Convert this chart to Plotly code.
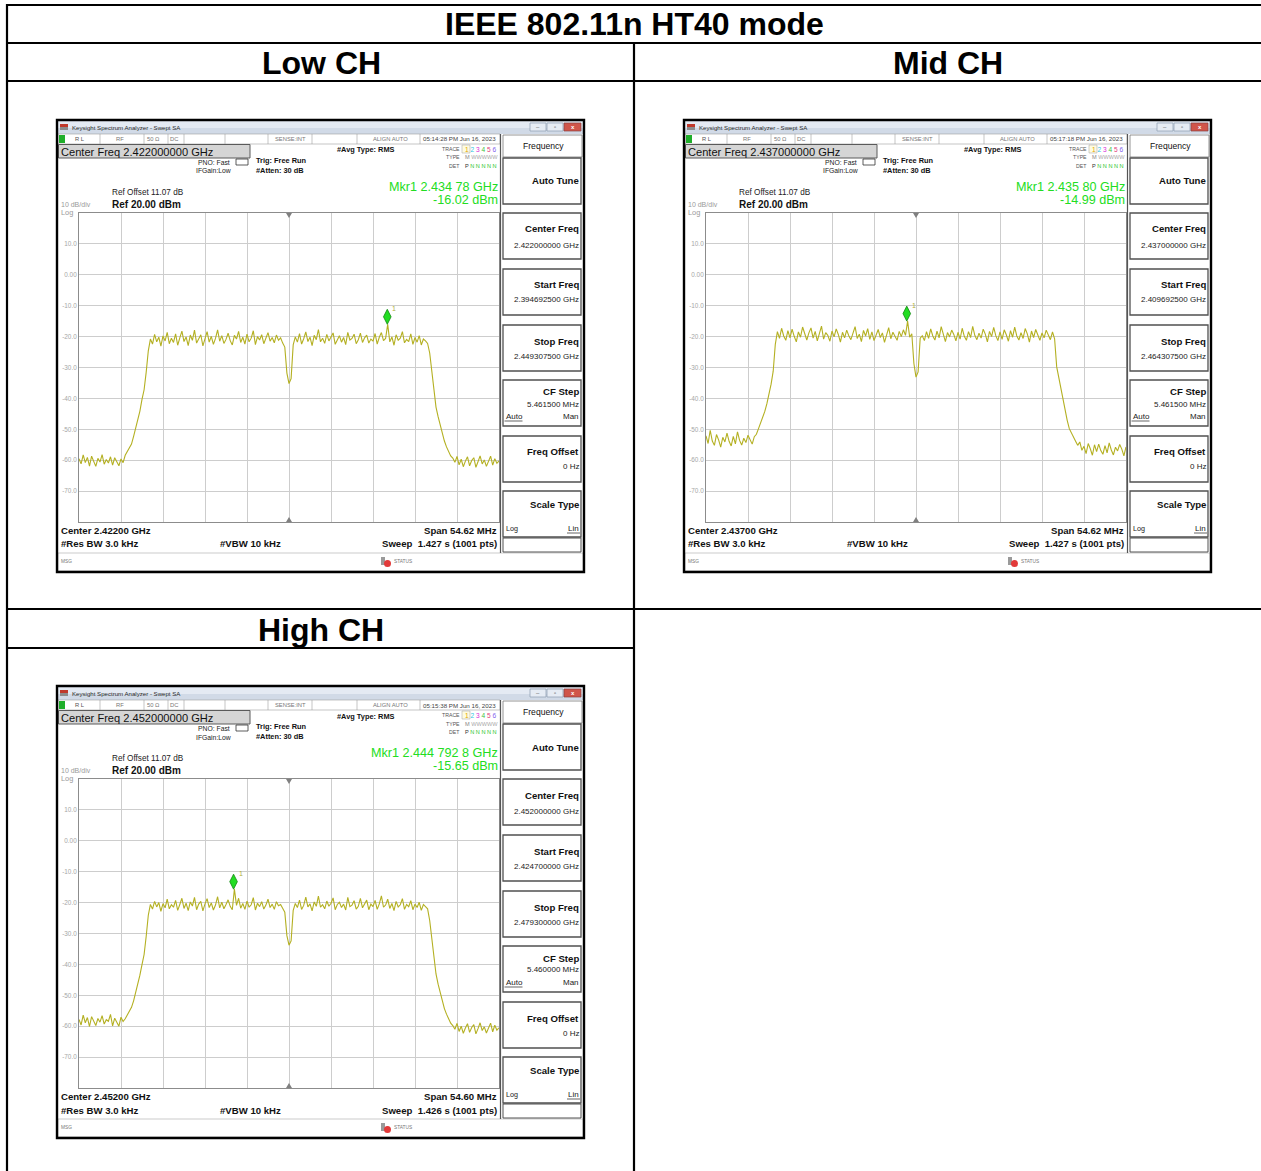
import numpy as np
import plotly.graph_objects as go

FONT = "Liberation Sans, Arial, sans-serif"
W, H = 1261, 1171
TRACE_COLOR = "#b4b022"

# ---------------- sweep settings (GHz) ----------------
low_start, low_stop = 2.3946925, 2.4493075
mid_start, mid_stop = 2.4096925, 2.4643075
high_start, high_stop = 2.4247, 2.4793

# ---------------- measured trace levels (dBm), 201 points across the span ----------------
low_dbm = [
    -59.5, -61.2, -58.3, -60.8, -59.1, -61.9, -58.7, -60.2, -62.0, -59.4,
    -60.6, -58.2, -61.3, -59.8, -60.9, -58.9, -61.6, -59.2, -60.4, -61.8,
    -59.6, -60.8, -58.4, -57.1, -55.6, -54.8, -52.3, -49.7, -46.2, -44.1,
    -40.3, -37.2, -31.5, -24.6, -20.8, -22.4, -19.3, -21.7, -20.2, -23.1,
    -19.8, -21.4, -18.6, -22.3, -20.5, -21.9, -19.1, -22.8, -20.4, -18.2,
    -21.6, -20.1, -22.9, -19.5, -21.2, -17.9, -22.1, -20.7, -19.4, -23.0,
    -20.3, -18.4, -21.8, -19.9, -22.5, -20.6, -17.8, -21.5, -19.7, -22.2,
    -20.9, -18.9, -21.3, -22.7, -19.6, -20.8, -18.3, -21.9, -20.2, -22.4,
    -19.2, -21.7, -20.5, -18.1, -22.6, -20.0, -21.1, -19.4, -22.3, -20.6,
    -18.7, -21.5, -20.3, -22.0, -19.5, -21.2, -20.4, -22.1, -23.4, -31.8,
    -35.2, -33.6, -22.7, -20.1, -21.8, -19.0, -22.4, -20.7, -18.5, -21.6,
    -20.2, -22.9, -19.6, -21.0, -17.7, -21.7, -20.5, -22.2, -19.3, -21.4,
    -20.0, -18.8, -22.5, -20.9, -19.7, -21.8, -20.3, -22.6, -18.6, -21.1,
    -20.6, -19.2, -22.3, -21.0, -18.9, -21.9, -20.4, -19.5, -22.1, -20.8,
    -21.5, -19.0, -22.4, -20.2, -18.7, -21.3, -20.6, -16.02, -21.7, -20.1,
    -22.8, -19.4, -21.2, -20.5, -18.4, -22.0, -20.9, -21.6, -19.1, -22.5,
    -20.3, -21.8, -19.7, -22.7, -20.8, -21.4, -22.2, -25.3, -31.6, -37.4,
    -42.8, -45.9, -48.6, -50.9, -53.8, -55.7, -57.2, -58.6, -59.3, -60.7,
    -58.8, -61.5, -59.7, -62.1, -60.3, -58.9, -61.8, -60.1, -59.2, -62.3,
    -60.5, -58.6, -61.2, -59.9, -62.0, -60.4, -58.7, -61.6, -59.5, -61.0, -60.2,
]

mid_dbm = [
    -52.1, -54.6, -50.3, -53.8, -55.2, -51.7, -53.4, -55.8, -52.6, -54.1,
    -51.2, -53.9, -55.4, -52.3, -54.7, -50.8, -53.6, -55.1, -52.9, -54.3,
    -51.9, -53.5, -54.8, -52.4, -51.6, -49.8, -48.1, -46.3, -44.2, -41.7,
    -38.6, -35.4, -31.2, -22.5, -18.4, -20.6, -17.3, -19.8, -21.2, -18.1,
    -20.4, -17.6, -19.9, -21.7, -18.5, -20.2, -16.9, -19.4, -21.1, -18.8,
    -17.2, -20.5, -18.3, -21.4, -19.0, -16.6, -20.8, -18.7, -19.6, -21.5,
    -18.2, -20.1, -17.5, -19.3, -21.8, -18.6, -20.4, -17.9, -19.7, -21.0,
    -18.9, -16.8, -20.6, -19.2, -21.6, -18.0, -19.8, -17.4, -20.9, -18.5,
    -21.3, -19.1, -17.7, -20.3, -18.8, -21.9, -19.4, -17.1, -20.7, -18.6,
    -19.9, -21.2, -18.3, -20.0, -17.8, -19.6, -14.99, -20.2, -19.1, -28.7,
    -33.1, -31.4, -20.5, -19.7, -21.3, -18.4, -20.6, -17.5, -19.8, -21.1,
    -18.2, -20.4, -16.8, -19.5, -21.6, -18.7, -20.1, -17.9, -19.3, -21.4,
    -18.6, -20.8, -17.3, -19.9, -21.2, -18.4, -20.3, -16.7, -19.6, -21.0,
    -18.9, -20.5, -17.6, -19.2, -21.7, -18.3, -20.0, -17.0, -19.7, -21.3,
    -18.5, -20.9, -17.8, -19.4, -21.5, -18.1, -20.2, -16.9, -19.8, -21.1,
    -18.7, -20.6, -17.4, -19.1, -21.8, -18.2, -20.3, -17.7, -19.5, -21.2,
    -18.8, -20.4, -17.9, -19.6, -21.0, -18.5, -20.7, -29.8, -33.5, -36.9,
    -40.2, -43.6, -47.1, -49.8, -51.3, -52.6, -53.9, -55.2, -54.1, -56.8,
    -55.5, -57.9, -54.6, -56.3, -58.4, -55.0, -57.2, -54.8, -56.9, -58.1,
    -55.3, -57.6, -54.4, -56.7, -58.3, -55.8, -57.0, -54.9, -56.4, -58.6, -55.7,
]

high_dbm = [
    -57.8, -59.6, -56.4, -58.9, -57.2, -60.1, -56.9, -58.3, -59.8, -57.5,
    -58.7, -56.6, -59.3, -57.9, -58.4, -56.2, -59.9, -57.4, -58.8, -60.0,
    -57.1, -58.5, -57.6, -56.3, -55.1, -53.9, -51.8, -49.2, -45.9, -43.5,
    -40.1, -36.8, -30.9, -24.1, -20.6, -22.1, -19.6, -21.4, -20.0, -22.8,
    -20.3, -21.7, -18.9, -22.0, -20.7, -21.5, -19.3, -22.5, -20.6, -18.6,
    -21.9, -20.2, -22.6, -19.8, -21.1, -18.3, -22.3, -20.5, -19.6, -22.7,
    -20.4, -18.7, -21.6, -20.1, -22.4, -20.8, -18.1, -21.7, -19.9, -22.0,
    -20.6, -19.1, -21.2, -22.3, -15.65, -20.9, -18.6, -21.8, -20.3, -22.2,
    -19.5, -21.5, -20.7, -18.4, -22.4, -20.2, -21.3, -19.7, -22.1, -20.8,
    -18.9, -21.6, -20.5, -22.2, -19.7, -21.0, -20.6, -22.0, -23.1, -30.7,
    -33.8, -32.4, -22.5, -20.3, -21.6, -19.2, -22.2, -20.9, -18.2, -21.4,
    -20.4, -22.7, -19.8, -21.2, -17.9, -21.5, -20.7, -22.0, -19.5, -21.2,
    -20.2, -18.5, -22.3, -20.6, -19.9, -21.6, -20.5, -22.4, -18.3, -21.3,
    -20.8, -19.4, -22.1, -21.2, -18.6, -21.7, -20.6, -19.2, -22.3, -20.5,
    -21.3, -19.3, -22.2, -20.4, -17.8, -21.5, -20.8, -18.9, -21.9, -20.3,
    -22.6, -19.6, -21.4, -20.7, -18.7, -22.2, -20.6, -21.3, -19.4, -22.3,
    -20.5, -21.6, -19.9, -22.5, -20.6, -21.2, -22.0, -25.8, -32.1, -37.9,
    -43.1, -46.4, -49.2, -51.6, -54.3, -56.1, -57.8, -59.0, -59.8, -61.0,
    -59.1, -61.7, -60.0, -62.3, -60.6, -59.2, -62.0, -60.4, -59.5, -62.5,
    -60.8, -58.9, -61.4, -60.2, -62.2, -60.7, -59.0, -61.8, -59.7, -61.3, -60.5,
]

# marker 1 readouts (GHz, dBm) and the number of decimals the analyzer shows
low_marker = (2.43478, -16.02)
mid_marker = (2.43580, -14.99)
high_marker = (2.4447928, -15.65)
low_marker_digits, mid_marker_digits, high_marker_digits = 5, 5, 7

# amplitude scale: ref 20 dBm, 10 dB/div
y_ticks = [10, 0, -10, -20, -30, -40, -50, -60, -70]
y_tick_text = ["10.0", "0.00", "-10.0", "-20.0", "-30.0", "-40.0", "-50.0", "-60.0", "-70.0"]

panels = [
    dict(name="Low CH", ox=57, oy=120, start=low_start, stop=low_stop, dbm=low_dbm,
         marker=low_marker, digits=low_marker_digits, cf="2.422000000 GHz",
         time="05:14:28 PM Jun 16, 2023",
         start_txt="2.394692500 GHz", stop_txt="2.449307500 GHz", step="5.461500 MHz",
         center="Center 2.42200 GHz", span="Span 54.62 MHz", sweep="Sweep  1.427 s (1001 pts)"),
    dict(name="Mid CH", ox=684, oy=120, start=mid_start, stop=mid_stop, dbm=mid_dbm,
         marker=mid_marker, digits=mid_marker_digits, cf="2.437000000 GHz",
         time="05:17:18 PM Jun 16, 2023",
         start_txt="2.409692500 GHz", stop_txt="2.464307500 GHz", step="5.461500 MHz",
         center="Center 2.43700 GHz", span="Span 54.62 MHz", sweep="Sweep  1.427 s (1001 pts)"),
    dict(name="High CH", ox=57, oy=686, start=high_start, stop=high_stop, dbm=high_dbm,
         marker=high_marker, digits=high_marker_digits, cf="2.452000000 GHz",
         time="05:15:38 PM Jun 16, 2023",
         start_txt="2.424700000 GHz", stop_txt="2.479300000 GHz", step="5.460000 MHz",
         center="Center 2.45200 GHz", span="Span 54.60 MHz", sweep="Sweep  1.426 s (1001 pts)"),
]

shapes, annots = [], []


def X(px):
    return px / W


def Y(py):
    return 1 - py / H


def rect(x0, y0, x1, y1, fill=None, line=None, lw=1.0):
    shapes.append(dict(type="rect", xref="paper", yref="paper",
                       x0=X(x0), x1=X(x1), y0=Y(y1), y1=Y(y0),
                       fillcolor=fill if fill else "rgba(0,0,0,0)",
                       line=dict(color=line if line else "rgba(0,0,0,0)", width=lw if line else 0),
                       layer="above"))


def seg(x0, y0, x1, y1, color="#000", lw=1.0):
    shapes.append(dict(type="line", xref="paper", yref="paper",
                       x0=X(x0), x1=X(x1), y0=Y(y0), y1=Y(y1),
                       line=dict(color=color, width=lw), layer="above"))


def text(x, y, s, size=8, color="#1a1a1a", bold=False, anchor="left", family=FONT):
    annots.append(dict(xref="paper", yref="paper", x=X(x), y=Y(y), text=s, showarrow=False,
                       xanchor=anchor, yanchor="middle", borderpad=0,
                       font=dict(size=size, color=color, family=family,
                                 weight="bold" if bold else "normal")))


def mkr_freq_text(f, digits):
    whole, dec = f"{f:.{digits}f}".split(".")
    groups = [dec[i:i + 3] for i in range(0, len(dec), 3)]
    return whole + "." + " ".join(groups)


# ---------------- table grid ----------------
TL = 2.2
seg(7, 5, W, 5, lw=TL)
seg(7, 4, 7, H, lw=TL)
seg(7, 43, W, 43, lw=TL)
seg(7, 81, W, 81, lw=TL)
seg(634, 43, 634, H, lw=TL)
seg(7, 609, W, 609, lw=TL)
seg(7, 648, 634, 648, lw=TL)

text(634, 24.5, "IEEE 802.11n HT40 mode", size=32, color="#000", bold=True, anchor="center")
text(321, 62.5, "Low CH", size=32, color="#000", bold=True, anchor="center")
text(948, 62.5, "Mid CH", size=32, color="#000", bold=True, anchor="center")
text(321, 629.5, "High CH", size=32, color="#000", bold=True, anchor="center")


def draw_panel(p):
    ox, oy = p["ox"], p["oy"]

    def R(x0, y0, x1, y1, **kw):
        rect(ox + x0, oy + y0, ox + x1, oy + y1, **kw)

    def L(x0, y0, x1, y1, **kw):
        seg(ox + x0, oy + y0, ox + x1, oy + y1, **kw)

    def T(x, y, s, **kw):
        text(ox + x, oy + y, s, **kw)

    # window title bar
    R(1, 1, 526, 8, fill="#e4eaf3")
    R(1, 8, 526, 14, fill="#d1dae7")
    R(3, 4, 11, 7, fill="#c0392b")
    R(3, 7, 11, 10, fill="#8c8c8c")
    T(14, 7.5, "Keysight Spectrum Analyzer - Swept SA", size=6.1, color="#2a2a2a")
    R(473, 3, 489, 11, fill="#e6ecf4", line="#8a9bb0", lw=0.7)
    R(490, 3, 506, 11, fill="#e6ecf4", line="#8a9bb0", lw=0.7)
    R(507, 3, 524, 11, fill="#d0554a", line="#8a4040", lw=0.7)
    T(481, 7, "–", size=6, color="#555", anchor="center")
    T(498, 7, "▫", size=6, color="#555", anchor="center")
    T(515.5, 7, "x", size=6, color="#fff", anchor="center", bold=True)

    # status row
    R(1, 14, 443, 24, fill="white", line="#a0a0a0", lw=0.6)
    for sx in [43, 87, 111, 127, 168, 211, 255, 300, 363]:
        L(sx, 14, sx, 24, color="#a0a0a0", lw=0.6)
    R(2, 15, 8, 23, fill="#1fae2a")
    T(17, 19, "R L", size=5.8, color="#555")
    T(63, 19, "RF", size=5.8, color="#777", anchor="center")
    T(96, 19, "50 Ω", size=5.8, color="#777", anchor="center")
    T(117, 19, "DC", size=5.8, color="#777", anchor="center")
    T(233, 19, "SENSE:INT", size=5.8, color="#777", anchor="center")
    T(333, 19, "ALIGN AUTO", size=5.8, color="#777", anchor="center")
    T(402.5, 19, p["time"], size=6.2, color="#444", anchor="center")

    # center frequency readout
    R(1.5, 24.5, 193, 38, fill="#d5d5d5", line="#5a5a5a", lw=1)
    T(3, 31.5, "Center Freq " + p["cf"], size=11.1, color="#111")

    T(174, 42, "PNO: Fast", size=6.8, color="#222", anchor="right")
    T(175, 51, "IFGain:Low", size=6.8, color="#222", anchor="right")
    R(179, 39, 191, 45, line="#333", lw=0.8)
    T(198, 40, "Trig: Free Run", size=7.4, color="#111", bold=True)
    T(198, 50, "#Atten: 30 dB", size=7.4, color="#111", bold=True)
    T(279, 30, "#Avg Type: RMS", size=7.4, color="#111", bold=True)

    # trace / type / detector table
    R(405, 25, 413, 33, fill="#fffbe0", line="#b0b0b0", lw=0.6)
    T(404, 29, "TRACE", size=5.2, color="#555", anchor="right")
    T(406.5, 29, '<span style="color:#e0a800">1</span> <span style="color:#2cc6df">2</span> '
                 '<span style="color:#d82ed8">3</span> <span style="color:#3cbf3c">4</span> '
                 '<span style="color:#e2407c">5</span> <span style="color:#7f63ee">6</span>',
      size=6.6)
    T(404, 37.5, "TYPE", size=5.2, color="#555", anchor="right")
    T(406.5, 37.5, '<span style="color:#888">M</span> <span style="color:#aaa">WWWWW</span>', size=5.6)
    T(404, 46, "DET", size=5.2, color="#555", anchor="right")
    T(406.5, 46, '<span style="color:#333">P</span> <span style="color:#2ac62a">N N N N N</span>', size=5.6)

    # marker readout, built from the marker values
    mf, ml = p["marker"]
    T(442, 66.5, f"Mkr1 {mkr_freq_text(mf, p['digits'])} GHz", size=12.6, color="#22dd22", anchor="right")
    T(442, 80, f"{ml:.2f} dBm", size=12.6, color="#22dd22", anchor="right")

    T(54, 72, "Ref Offset 11.07 dB", size=8.2, color="#222")
    T(54, 84, "Ref 20.00 dBm", size=10, color="#111", bold=True)
    T(3, 84, "10 dB/div", size=7, color="#9a9a9a")
    T(3, 92.3, "Log", size=7.4, color="#9a9a9a")

    # bottom annotations
    T(3, 410, p["center"], size=9.6, color="#111", bold=True)
    T(441, 410, p["span"], size=9.6, color="#111", bold=True, anchor="right")
    T(3, 424, "#Res BW 3.0 kHz", size=9.6, color="#111", bold=True)
    T(162, 424, "#VBW 10 kHz", size=9.6, color="#111", bold=True)
    T(441, 424, p["sweep"], size=9.6, color="#111", bold=True, anchor="right")

    # message bar
    R(1, 433, 526, 451, fill="white", line="#a8a8a8", lw=0.6)
    T(3, 441, "MSG", size=4.8, color="#777")
    R(324, 437, 328, 445, fill="#9a9a9a")
    shapes.append(dict(type="circle", xref="paper", yref="paper",
                       x0=X(ox + 327), x1=X(ox + 334), y0=Y(oy + 447), y1=Y(oy + 440),
                       fillcolor="#e23a3a", line=dict(width=0), layer="above"))
    T(336, 441, "STATUS", size=4.8, color="#777")

    # softkey panel
    L(443.5, 14, 443.5, 433, color="#555", lw=1.2)
    R(446, 15, 525, 37, fill="white", line="#7a7a7a", lw=0.8)
    T(486, 26, "Frequency", size=8.6, color="#111", anchor="center")
    key_tops = [38, 93, 149, 205, 260, 316, 371]
    for kt in key_tops:
        R(446, kt, 524, kt + 46, fill="white", line="#505050", lw=1.3)
    R(446, 418, 524, 432, fill="white", line="#505050", lw=1.0)

    KB, KV = 9.6, 8.0
    T(523, 61, "Auto Tune", size=KB, color="#111", bold=True, anchor="right")
    T(523, 109, "Center Freq", size=KB, color="#111", bold=True, anchor="right")
    T(523, 125, p["cf"], size=KV, color="#222", anchor="right")
    T(523, 165, "Start Freq", size=KB, color="#111", bold=True, anchor="right")
    T(523, 180, p["start_txt"], size=KV, color="#222", anchor="right")
    T(523, 221, "Stop Freq", size=KB, color="#111", bold=True, anchor="right")
    T(523, 236, p["stop_txt"], size=KV, color="#222", anchor="right")
    T(523, 272, "CF Step", size=KB, color="#111", bold=True, anchor="right")
    T(523, 284, p["step"], size=KV, color="#222", anchor="right")
    T(447.5, 296, "Auto", size=KV, color="#222")
    L(447.5, 301, 465.5, 301, color="#222", lw=0.7)
    T(523, 296, "Man", size=KV, color="#222", anchor="right")
    T(523, 332, "Freq Offset", size=KB, color="#111", bold=True, anchor="right")
    T(523, 347, "0 Hz", size=KV, color="#222", anchor="right")
    T(523, 384, "Scale Type", size=KB, color="#111", bold=True, anchor="right")
    T(447.5, 408, "Log", size=7.2, color="#222")
    T(523, 408, "Lin", size=KV, color="#222", anchor="right")
    L(510, 413, 523, 413, color="#222", lw=0.7)

    # outer window frame
    R(0, 0, 527, 452, line="#000", lw=2.4)


for p in panels:
    draw_panel(p)

fig = go.Figure()
layout = dict(width=W, height=H, margin=dict(l=0, r=0, t=0, b=0),
              paper_bgcolor="white", plot_bgcolor="white", showlegend=False)

for k, p in enumerate(panels):
    suf = "" if k == 0 else str(k + 1)
    xr, yr = "x" + suf, "y" + suf
    ox, oy = p["ox"], p["oy"]
    start, stop = p["start"], p["stop"]
    freqs = np.linspace(start, stop, len(p["dbm"]))
    fig.add_trace(go.Scatter(x=freqs, y=p["dbm"], mode="lines",
                             line=dict(color=TRACE_COLOR, width=1.1),
                             xaxis=xr, yaxis=yr, hoverinfo="skip", showlegend=False))

    div = (stop - start) / 10
    layout["xaxis" + suf] = dict(
        domain=[X(ox + 22), X(ox + 442)], range=[start, stop], anchor=yr,
        tickmode="array", tickvals=[start + i * div for i in range(1, 10)],
        showticklabels=False, ticks="", showgrid=True, gridcolor="#cdcdcd", gridwidth=1,
        showline=True, mirror=True, linecolor="#8c8c8c", linewidth=1, zeroline=False,
        fixedrange=True)
    layout["yaxis" + suf] = dict(
        domain=[Y(oy + 402), Y(oy + 93)], range=[-80, 20], anchor=xr,
        tickmode="array", tickvals=y_ticks, ticktext=y_tick_text,
        tickfont=dict(size=6.4, color="#a6a6a6", family=FONT), ticks="",
        showgrid=True, gridcolor="#cdcdcd", gridwidth=1,
        showline=True, mirror=True, linecolor="#8c8c8c", linewidth=1, zeroline=False,
        fixedrange=True)

    # center-frequency pointers on the graticule edges
    cf = (start + stop) / 2
    shapes.append(dict(type="path", xref=xr, yref=yr, xsizemode="pixel", ysizemode="pixel",
                       xanchor=cf, yanchor=20, path="M-3,0 L3,0 L0,-5 Z",
                       fillcolor="#808080", line=dict(width=0), layer="above"))
    shapes.append(dict(type="path", xref=xr, yref=yr, xsizemode="pixel", ysizemode="pixel",
                       xanchor=cf, yanchor=-80, path="M-3,0 L3,0 L0,5 Z",
                       fillcolor="#808080", line=dict(width=0), layer="above"))

    # marker 1 diamond sitting on the marker level
    mf, ml = p["marker"]
    shapes.append(dict(type="path", xref=xr, yref=yr, xsizemode="pixel", ysizemode="pixel",
                       xanchor=mf, yanchor=ml, path="M0,0 L3.8,7.5 L0,15 L-3.8,7.5 Z",
                       fillcolor="#22dd22", line=dict(color="#118811", width=0.8), layer="above"))
    annots.append(dict(xref=xr, yref=yr, x=mf, y=ml, text="1", showarrow=False,
                       xshift=7, yshift=16, font=dict(size=7, color="#b0ae40", family=FONT)))

layout["shapes"] = shapes
layout["annotations"] = annots
fig.update_layout(**layout)
fig.write_html("out.html")
